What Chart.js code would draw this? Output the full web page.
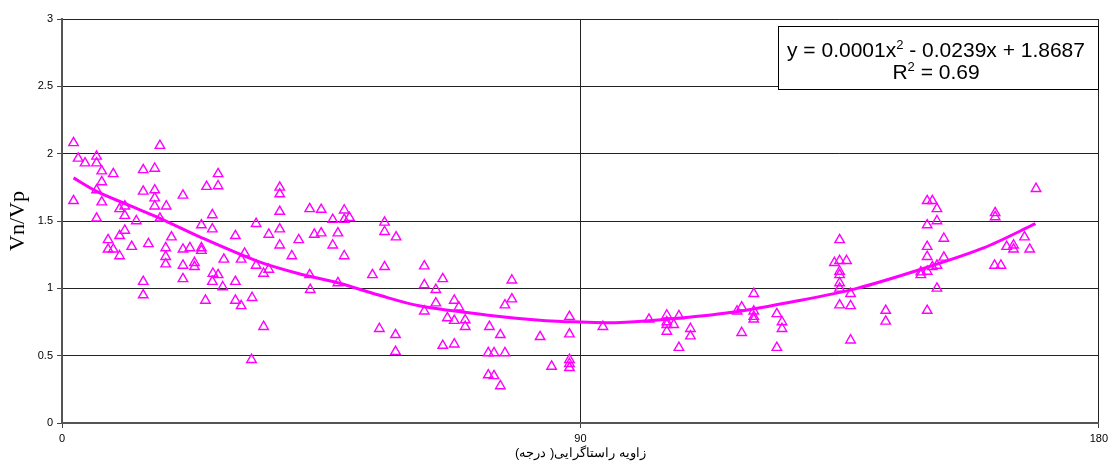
<!DOCTYPE html>
<html>
<head>
<meta charset="utf-8">
<script src="https://cdn.jsdelivr.net/npm/chart.js@4"></script>
<style>
  html, body { margin: 0; padding: 0; background: #fff; }
  #wrap { width: 1112px; height: 461px; }
</style>
</head>
<body>
<div id="wrap"><canvas id="myChart" width="1112" height="461"></canvas></div>
<script>
const ctx = document.getElementById("myChart").getContext("2d");

// measured points (angle in degrees, Vn/Vp)
const angle = [
  2.0, 2.8, 4.0, 6.0, 6.0, 6.9, 8.9, 6.9, 6.0, 2.0, 6.9, 6.0, 10.0, 10.9, 10.9, 12.9,
  14.1, 16.1, 17.0, 14.1, 16.1, 16.1, 16.1, 18.1, 17.0, 21.0, 25.1, 27.1, 27.1, 26.1,
  24.2, 26.1, 30.1, 33.7, 10.9, 10.0, 8.0, 8.0, 8.9, 10.0, 12.1, 15.0, 19.0, 18.0,
  18.0, 18.0, 21.0, 22.2, 24.2, 24.2, 21.0, 23.0, 23.0, 26.2, 27.1, 26.1, 28.1, 31.1,
  30.1, 27.9, 21.0, 14.1, 14.1, 24.9, 30.1, 31.1, 33.0, 31.7, 33.7,
  37.8, 37.8, 37.8, 37.8, 35.9, 37.8, 41.1, 43.0, 45.0, 49.0, 49.9, 49.0, 47.0, 43.8,
  45.0, 47.9, 47.0, 49.0, 39.9, 56.0, 56.0, 58.0, 56.0, 53.9, 35.9, 35.0, 43.0, 43.1,
  47.9, 35.0, 32.9, 55.1, 57.9, 57.9,
  62.9, 66.1, 62.9, 64.9, 64.9, 62.9, 68.1, 68.9, 66.9, 68.1, 70.0, 70.0, 66.1, 68.1,
  74.2, 76.1, 74.0, 75.0, 76.9, 74.0, 75.0, 76.1, 78.1, 78.1, 76.9, 83.0, 85.0, 88.1,
  88.1, 88.1, 88.1, 88.1,
  93.9, 101.9, 105.0, 105.0, 105.0, 105.0, 106.2, 107.1, 107.1, 109.1, 109.1, 117.2,
  118.0, 118.0, 120.1, 120.1, 120.1, 120.1, 124.1, 125.0, 125.0, 124.1,
  135.0, 134.1, 135.0, 136.2, 135.0, 135.0, 135.0, 135.0, 135.0, 136.9, 136.9, 136.9,
  143.0, 143.0, 150.2, 151.1, 151.9, 151.9, 150.2, 153.1, 150.2, 150.2, 153.1, 151.9,
  151.1, 149.1, 149.1, 150.2, 151.9, 150.2, 162.0, 162.0, 169.1, 167.1, 164.0, 165.2,
  165.2, 168.0, 161.9, 163.0
];
const ratio = [
  2.08, 1.965, 1.93, 1.98, 1.93, 1.87, 1.85, 1.79, 1.73, 1.65, 1.64, 1.52, 1.59, 1.61, 1.54, 1.50,
  1.88, 1.89, 2.06, 1.72, 1.73, 1.67, 1.61, 1.61, 1.52, 1.69, 1.755, 1.85, 1.76, 1.545,
  1.47, 1.44, 1.39, 1.48, 1.43, 1.39, 1.36, 1.29, 1.29, 1.24, 1.31, 1.33, 1.38, 1.30,
  1.235, 1.18, 1.29, 1.30, 1.30, 1.28, 1.17, 1.19, 1.16, 1.11, 1.10, 1.05, 1.215, 1.215,
  1.05, 1.01, 1.07, 1.05, 0.95, 0.91, 0.91, 0.87, 0.93, 1.26, 1.17,
  1.75, 1.70, 1.57, 1.44, 1.40, 1.32, 1.36, 1.59, 1.585, 1.58, 1.525, 1.51, 1.51, 1.40,
  1.41, 1.41, 1.32, 1.24, 1.24, 1.49, 1.42, 1.38, 1.16, 1.10, 1.14, 1.11, 1.10, 0.99,
  1.04, 0.715, 0.47, 0.70, 0.655, 0.53,
  1.165, 1.07, 1.025, 0.99, 0.89, 0.83, 0.91, 0.86, 0.78, 0.76, 0.765, 0.715, 0.575, 0.585,
  0.715, 0.655, 0.52, 0.52, 0.52, 0.356, 0.35, 0.275, 1.06, 0.92, 0.875, 0.64, 0.42, 0.79,
  0.66, 0.47, 0.44, 0.41,
  0.715, 0.77, 0.80, 0.75, 0.73, 0.68, 0.73, 0.795, 0.56, 0.70, 0.645, 0.83,
  0.86, 0.67, 0.96, 0.83, 0.79, 0.77, 0.81, 0.75, 0.70, 0.56,
  1.36, 1.19, 1.205, 1.205, 1.125, 1.10, 1.04, 1.00, 0.875, 0.96, 0.87, 0.615,
  0.835, 0.755, 1.65, 1.65, 1.59, 1.50, 1.47, 1.37, 1.31, 1.235, 1.23, 1.17,
  1.16, 1.12, 1.10, 1.125, 1.00, 0.835, 1.56, 1.53, 1.74, 1.38, 1.31, 1.32,
  1.29, 1.29, 1.17, 1.17
];

// trend line
const trendAngle = [2, 6, 12, 17, 24, 34, 41, 48, 55, 62, 74, 84, 90, 96, 105, 116, 128, 138, 149, 160, 169];
const trendRatio = [1.82, 1.72, 1.61, 1.52, 1.38, 1.20, 1.11, 1.04, 0.95, 0.87, 0.80, 0.76, 0.75, 0.745, 0.77, 0.82, 0.91, 1.00, 1.14, 1.30, 1.48];

const xTicks = [0, 90, 180];
const yTicks = [0, 0.5, 1, 1.5, 2, 2.5, 3];
const xTitle = "زاویه راستاگرایی( درجه)";
const yTitle = "Vn/Vp";
const eqLine = ["y = 0.0001x", "2", " - 0.0239x + 1.8687"];
const r2Line = ["R", "2", " = 0.69"];

const pink = "#ff00ff";

const points = angle.map((a, i) => ({ x: a, y: ratio[i] }));
const trend = trendAngle.map((a, i) => ({ x: a, y: trendRatio[i] }));

// draws text pieces with a raised small "2"
function drawSup(c, parts, cx, y, size) {
  const big = size + "px Arial, 'Liberation Sans'";
  const small = Math.round(size * 0.62) + "px Arial, 'Liberation Sans'";
  c.font = big;
  const w0 = c.measureText(parts[0]).width;
  const w2 = c.measureText(parts[2]).width;
  c.font = small;
  const w1 = c.measureText(parts[1]).width;
  let x = cx - (w0 + w1 + w2) / 2;
  c.textAlign = "left";
  c.textBaseline = "alphabetic";
  c.font = big;
  c.fillText(parts[0], x, y);
  x += w0;
  c.font = small;
  c.fillText(parts[1], x, y - size * 0.4);
  x += w1;
  c.font = big;
  c.fillText(parts[2], x, y);
}

const equationBox = {
  id: "equationBox",
  afterDraw(chart) {
    const c = chart.ctx;
    c.save();
    c.fillStyle = "#fff";
    c.strokeStyle = "#000";
    c.lineWidth = 1;
    c.fillRect(778.5, 26.5, 320, 63);
    c.strokeRect(778.5, 26.5, 320, 63);
    c.fillStyle = "#000";
    drawSup(c, eqLine, 936, 57, 21);
    drawSup(c, r2Line, 936, 79, 21);
    c.restore();
  }
};

const data = {
  datasets: [
    {
      type: "line",
      data: trend,
      borderColor: pink,
      borderWidth: 3,
      pointRadius: 0,
      tension: 0.3,
      fill: false,
      order: 1
    },
    {
      type: "scatter",
      data: points,
      pointStyle: "triangle",
      pointRadius: 5.5,
      pointBorderWidth: 1.4,
      pointBorderColor: pink,
      pointBackgroundColor: "rgba(255,255,255,0)",
      order: 0
    }
  ]
};

const config = {
  type: "scatter",
  data: data,
  plugins: [equationBox],
  options: {
    responsive: false,
    animation: false,
    layout: { padding: { top: 19, right: 11, left: 0, bottom: 0 } },
    plugins: { legend: { display: false }, tooltip: { enabled: false } },
    scales: {
      x: {
        type: "linear",
        min: 0,
        max: 180,
        afterBuildTicks: (axis) => { axis.ticks = xTicks.map(v => ({ value: v })); },
        afterFit: (axis) => { axis.height = 38; },
        ticks: {
          color: "#000",
          font: { family: "Arial, 'Liberation Sans'", size: 11 },
          padding: 4,
          maxRotation: 0,
          callback: (value) => String(value)
        },
        grid: { color: "#222", lineWidth: 1, tickLength: 5, tickColor: "#444" },
        border: { color: "#555", width: 2 },
        title: {
          display: true,
          text: xTitle,
          color: "#000",
          font: { family: "Arial, 'Liberation Sans'", size: 13 },
          padding: { top: 0, bottom: 0 }
        }
      },
      y: {
        min: 0,
        max: 3,
        afterBuildTicks: (axis) => { axis.ticks = yTicks.map(v => ({ value: v })); },
        afterFit: (axis) => { axis.width = 62; },
        ticks: {
          color: "#000",
          font: { family: "Arial, 'Liberation Sans'", size: 11 },
          padding: 4,
          callback: (value) => String(value)
        },
        grid: { color: "#222", lineWidth: 1, tickLength: 5, tickColor: "#444" },
        border: { color: "#555", width: 2 },
        title: {
          display: true,
          text: yTitle,
          color: "#000",
          font: { family: "'Times New Roman', 'Liberation Serif', serif", size: 22 },
          padding: { top: 5, bottom: 0 }
        }
      }
    }
  }
};

const myChart = new Chart(ctx, config);
</script>
</body>
</html>
